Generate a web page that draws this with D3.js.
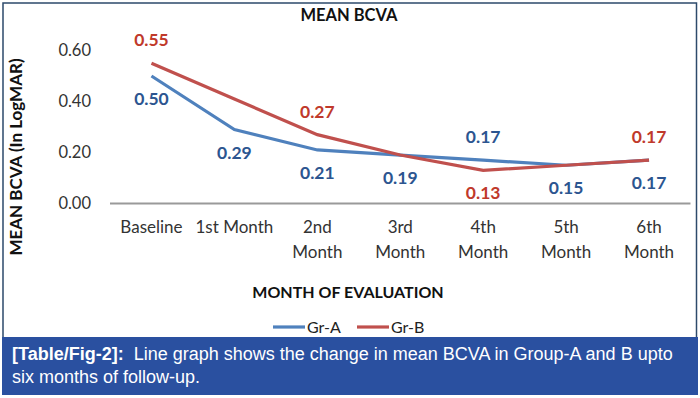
<!DOCTYPE html>
<html>
<head>
<meta charset="utf-8">
<script src="https://cdn.jsdelivr.net/npm/d3@7"></script>
<style>
  body { margin: 0; background: #fff; }
  svg { display: block; }
</style>
</head>
<body>
<div id="chart"></div>
<script>
(function () {
var categories = ["Baseline", "1st Month", "2nd Month", "3rd Month", "4th Month", "5th Month", "6th Month"];
var tickLines = [["Baseline"], ["1st Month"], ["2nd", "Month"], ["3rd", "Month"], ["4th", "Month"], ["5th", "Month"], ["6th", "Month"]];
var groupA = [0.50, 0.29, 0.21, 0.19, 0.17, 0.15, 0.17];
var groupB = [0.55, 0.41, 0.27, 0.19, 0.13, 0.15, 0.17];
// where each value label sits, null = not shown
var labelPosA = ["below", "below", "below", "below", "above", "below", "below"];
var labelPosB = ["above", null, "above", null, "below", null, "above"];
var yTicks = [0, 0.2, 0.4, 0.6];

var w = 700, h = 398;
var font = "Lato, 'Open Sans', sans-serif";
var capFont = "'Liberation Sans', Arial, sans-serif";
var blue = "#4f81bd", red = "#c0504d";
var blueText = "#2c5590", redText = "#c0392b";

var svg = d3.select("#chart").append("svg").attr("width", w).attr("height", h);

// outer frame
svg.append("rect")
  .attr("x", 3).attr("y", 3).attr("width", 693.5).attr("height", 380)
  .attr("fill", "none").attr("stroke", "#2d4a6b").attr("stroke-width", 1.5);

var x = d3.scaleBand().domain(categories).range([110, 690.5]);
var y = d3.scaleLinear().domain([0, 0.6]).range([203.5, 50.5]);
var cx = function (c) { return x(c) + x.bandwidth() / 2; };

// y tick labels
svg.selectAll(".ytick").data(yTicks).enter().append("text")
  .attr("x", 91).attr("y", function (d) { return y(d); })
  .attr("dy", "0.35em")
  .attr("text-anchor", "end")
  .attr("font-family", font).attr("font-size", "16.5px").attr("fill", "#333")
  .text(function (d) { return d3.format(".2f")(d); });

// baseline axis
svg.append("line")
  .attr("x1", x.range()[0]).attr("x2", x.range()[1])
  .attr("y1", y(0)).attr("y2", y(0))
  .attr("stroke", "#9a9a9a").attr("stroke-width", 2);

// x tick labels
svg.selectAll(".xtick").data(categories).enter().append("text")
  .attr("x", cx)
  .attr("y", 233)
  .attr("text-anchor", "middle")
  .attr("font-family", font).attr("font-size", "17px").attr("fill", "#333")
  .each(function (d, i) {
    var t = d3.select(this);
    tickLines[i].forEach(function (s, j) {
      t.append("tspan").attr("x", cx(d)).attr("dy", j === 0 ? 0 : 25).text(s);
    });
  });

var line = d3.line()
  .x(function (d, i) { return cx(categories[i]); })
  .y(function (d) { return y(d); });

svg.append("path").datum(groupA).attr("d", line)
  .attr("fill", "none").attr("stroke", blue).attr("stroke-width", 3.2);
svg.append("path").datum(groupB).attr("d", line)
  .attr("fill", "none").attr("stroke", red).attr("stroke-width", 3.2);

function labels(vals, pos, color) {
  vals.forEach(function (v, i) {
    if (!pos[i]) return;
    svg.append("text")
      .attr("x", cx(categories[i]))
      .attr("y", y(v) + (pos[i] === "above" ? -23 : 23))
      .attr("dy", "0.35em")
      .attr("text-anchor", "middle")
      .attr("font-family", font).attr("font-size", "17.5px").attr("font-weight", "bold")
      .attr("fill", color)
      .text(d3.format(".2f")(v));
  });
}
labels(groupA, labelPosA, blueText);
labels(groupB, labelPosB, redText);

// titles
svg.append("text")
  .attr("x", 349).attr("y", 21)
  .attr("text-anchor", "middle")
  .attr("font-family", font).attr("font-size", "16.5px").attr("font-weight", "bold").attr("fill", "#111")
  .text("MEAN BCVA");

svg.append("text")
  .attr("transform", "translate(22,157) rotate(-90)")
  .attr("text-anchor", "middle")
  .attr("font-family", font).attr("font-size", "17px").attr("font-weight", "bold").attr("fill", "#111")
  .text("MEAN BCVA (In LogMAR)");

svg.append("text")
  .attr("x", 348).attr("y", 298)
  .attr("text-anchor", "middle")
  .attr("font-family", font).attr("font-size", "16px").attr("font-weight", "bold").attr("fill", "#111")
  .text("MONTH OF EVALUATION");

// legend
var legend = [{ name: "Gr-A", color: blue, x: 273 }, { name: "Gr-B", color: red, x: 357 }];
legend.forEach(function (l) {
  svg.append("line")
    .attr("x1", l.x).attr("x2", l.x + 32)
    .attr("y1", 327).attr("y2", 327)
    .attr("stroke", l.color).attr("stroke-width", 3.2);
  svg.append("text")
    .attr("x", l.x + 34).attr("y", 333)
    .attr("font-family", font).attr("font-size", "16px").attr("fill", "#222")
    .text(l.name);
});

// caption box
svg.append("rect")
  .attr("x", 2).attr("y", 337).attr("width", 696).attr("height", 58)
  .attr("fill", "#2a50a0");
var cap = svg.append("text")
  .attr("x", 12).attr("y", 360)
  .attr("font-family", capFont).attr("font-size", "18px").attr("fill", "#fff");
cap.append("tspan").attr("font-weight", "bold").text("[Table/Fig-2]:");
cap.append("tspan").text("\u00a0 Line graph shows the change in mean BCVA in Group-A and B upto");
svg.append("text")
  .attr("x", 12).attr("y", 383)
  .attr("font-family", capFont).attr("font-size", "18px").attr("fill", "#fff")
  .text("six months of follow-up.");
})();
</script>
</body>
</html>
